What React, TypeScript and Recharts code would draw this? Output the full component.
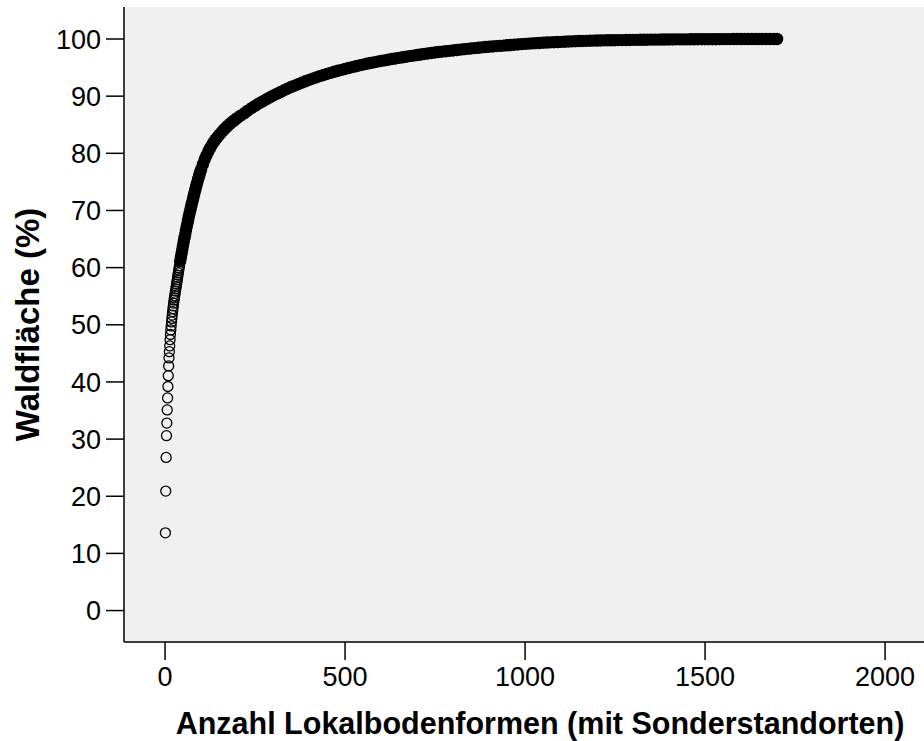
import { ScatterChart, Scatter, XAxis, YAxis, CartesianGrid } from 'recharts'

const FONT = '"Liberation Sans", Arial, Helvetica, sans-serif'

// the first forms still show up as separate circles
const firstCounts = [
    1, 2, 3, 4, 5, 6, 7, 8, 9, 10, 11, 12, 13, 14, 15, 16, 17, 18, 19, 20,
    21, 22, 23, 24, 25, 26, 27, 28, 29, 30, 31, 32, 33, 34, 35, 36, 37, 38, 39, 40,
]
const firstShares = [
    13.6, 20.9, 26.8, 30.6, 32.8, 35.1, 37.2, 39.2, 41.1, 42.8, 44.2, 45.3, 46.3, 47.4, 48.3, 49.1, 49.8, 50.5, 51.1, 51.7,
    52.3, 52.8, 53.3, 53.8, 54.3, 54.7, 55.1, 55.5, 55.9, 56.3, 56.7, 57.1, 57.5, 57.9, 58.3, 58.7, 59.1, 59.5, 59.9, 60.3,
]

// after that the circles pile up into one black band
const laterCounts = [
    42, 44, 46, 48, 50, 52, 54, 56, 58, 60, 62, 64, 66, 68, 70, 72, 74, 76, 78, 80,
    82, 84, 86, 88, 90, 92, 94, 96, 98, 100,
    105, 110, 115, 120, 125, 130, 135, 140, 145, 150, 155, 160, 165, 170, 175, 180, 185, 190, 195, 200,
    210, 220, 230, 240, 250, 260, 270, 280, 290, 300, 310, 320, 330, 340, 350, 360, 370, 380, 390, 400,
    410, 420, 430, 440, 450, 460, 470, 480, 490, 500,
    510, 520, 530, 540, 550, 560, 570, 580, 590, 600, 610, 620, 630, 640, 650, 660, 670, 680, 690, 700,
    710, 720, 730, 740, 750, 760, 770, 780, 790, 800, 810, 820, 830, 840, 850, 860, 870, 880, 890, 900,
    910, 920, 930, 940, 950, 960, 970, 980, 990, 1000, 1010, 1020, 1030, 1040, 1050, 1060, 1070, 1080, 1090, 1100,
    1110, 1120, 1130, 1140, 1150, 1160, 1170, 1180, 1190, 1200, 1210, 1220, 1230, 1240, 1250, 1260, 1270, 1280, 1290, 1300,
    1310, 1320, 1330, 1340, 1350, 1360, 1370, 1380, 1390, 1400, 1410, 1420, 1430, 1440, 1450, 1460, 1470, 1480, 1490, 1500,
    1510, 1520, 1530, 1540, 1550, 1560, 1570, 1580, 1590, 1600, 1610, 1620, 1630, 1640, 1650, 1660, 1670, 1680, 1690, 1700,
]
const laterShares = [
    61.1, 61.8, 62.5, 63.2, 63.9, 64.6, 65.2, 65.8, 66.5, 67.1, 67.7, 68.3, 68.9, 69.5, 70.0, 70.55, 71.1, 71.6, 72.1, 72.65,
    73.15, 73.6, 74.1, 74.6, 75.05, 75.5, 75.9, 76.35, 76.75, 77.15,
    78.05, 78.9, 79.65, 80.3, 80.9, 81.45, 81.95, 82.4, 82.8, 83.2, 83.55, 83.9, 84.25, 84.55, 84.85, 85.15, 85.4, 85.65, 85.9, 86.15,
    86.6, 87.0, 87.45, 87.9, 88.3, 88.7, 89.05, 89.4, 89.75, 90.1, 90.4, 90.7, 91.0, 91.3, 91.6, 91.85, 92.1, 92.35, 92.6, 92.85,
    93.07, 93.29, 93.5, 93.7, 93.9, 94.08, 94.26, 94.44, 94.6, 94.76,
    94.92, 95.08, 95.23, 95.38, 95.52, 95.66, 95.79, 95.92, 96.04, 96.16, 96.27, 96.38, 96.49, 96.6, 96.7, 96.8, 96.9, 97.0, 97.1, 97.2,
    97.29, 97.38, 97.47, 97.56, 97.65, 97.72, 97.79, 97.86, 97.93, 98.0, 98.07, 98.14, 98.21, 98.28, 98.35, 98.41, 98.47, 98.53, 98.59, 98.65,
    98.7, 98.75, 98.8, 98.85, 98.9, 98.95, 99.0, 99.05, 99.1, 99.15, 99.19, 99.23, 99.27, 99.31, 99.35, 99.38, 99.41, 99.44, 99.47, 99.5,
    99.53, 99.56, 99.59, 99.62, 99.64, 99.66, 99.68, 99.7, 99.72, 99.74, 99.75, 99.76, 99.77, 99.78, 99.79, 99.8, 99.81, 99.82, 99.83, 99.84,
    99.85, 99.86, 99.87, 99.88, 99.89, 99.9, 99.9, 99.91, 99.91, 99.92, 99.92, 99.93, 99.93, 99.94, 99.94, 99.95, 99.95, 99.96, 99.96, 99.96,
    99.97, 99.97, 99.97, 99.98, 99.98, 99.98, 99.98, 99.99, 99.99, 99.99, 99.99, 99.99, 100, 100, 100, 100, 100, 100, 100, 100,
]

const xTicks = [0, 500, 1000, 1500, 2000]
const yTicks = [0, 10, 20, 30, 40, 50, 60, 70, 80, 90, 100]

const firstData = firstCounts.map((count, i) => ({ count, share: firstShares[i] }))
const laterData = laterCounts.map((count, i) => ({ count, share: laterShares[i] }))

const X_DOMAIN = [-114, 2197]
const Y_DOMAIN = [-5.5, 105.6]

const tickStyle = { fill: '#000', fontSize: 27, fontFamily: FONT }
const axisLine = { stroke: '#000', strokeWidth: 1.5 }
const titleStyle = { fill: '#000', fontWeight: 'bold', fontFamily: FONT }

const HollowDot = (props: any) => (
    <circle cx={props.cx} cy={props.cy} r={5} fill="none" stroke="#000" strokeWidth={1.3} />
)

const SolidDot = (props: any) => (
    <circle cx={props.cx} cy={props.cy} r={6.2} fill="#000" />
)

export default function App() {
    return (
        <div style={{ position: 'absolute', left: 0, top: 0, width: 924, height: 741, overflow: 'hidden', background: '#fff' }}>
            <ScatterChart width={960} height={741} margin={{ top: 7, right: 4, bottom: 0, left: 0 }}>
                <CartesianGrid fill="#f0f0f0" horizontal={false} vertical={false} />
                <XAxis
                    dataKey="count"
                    type="number"
                    domain={X_DOMAIN}
                    allowDataOverflow
                    ticks={xTicks}
                    height={99}
                    tickSize={18}
                    tickMargin={7}
                    tick={tickStyle}
                    tickLine={axisLine}
                    axisLine={axisLine}
                    label={{
                        value: 'Anzahl Lokalbodenformen (mit Sonderstandorten)',
                        position: 'insideBottom',
                        offset: 7,
                        style: { ...titleStyle, fontSize: 30.5 },
                    }}
                />
                <XAxis
                    xAxisId="top"
                    orientation="top"
                    type="number"
                    domain={X_DOMAIN}
                    allowDataOverflow
                    height={0}
                    tick={false}
                    tickLine={false}
                    axisLine={axisLine}
                />
                <YAxis
                    dataKey="share"
                    type="number"
                    domain={Y_DOMAIN}
                    allowDataOverflow
                    ticks={yTicks}
                    width={124}
                    tickSize={18}
                    tickMargin={5}
                    tick={tickStyle}
                    tickLine={axisLine}
                    axisLine={axisLine}
                    label={{
                        value: 'Waldfläche (%)',
                        angle: -90,
                        position: 'insideLeft',
                        offset: 27,
                        style: { ...titleStyle, fontSize: 33, textAnchor: 'middle' },
                    }}
                />
                <Scatter data={laterData} shape={SolidDot} isAnimationActive={false} />
                <Scatter data={firstData} shape={HollowDot} isAnimationActive={false} />
            </ScatterChart>
        </div>
    )
}
